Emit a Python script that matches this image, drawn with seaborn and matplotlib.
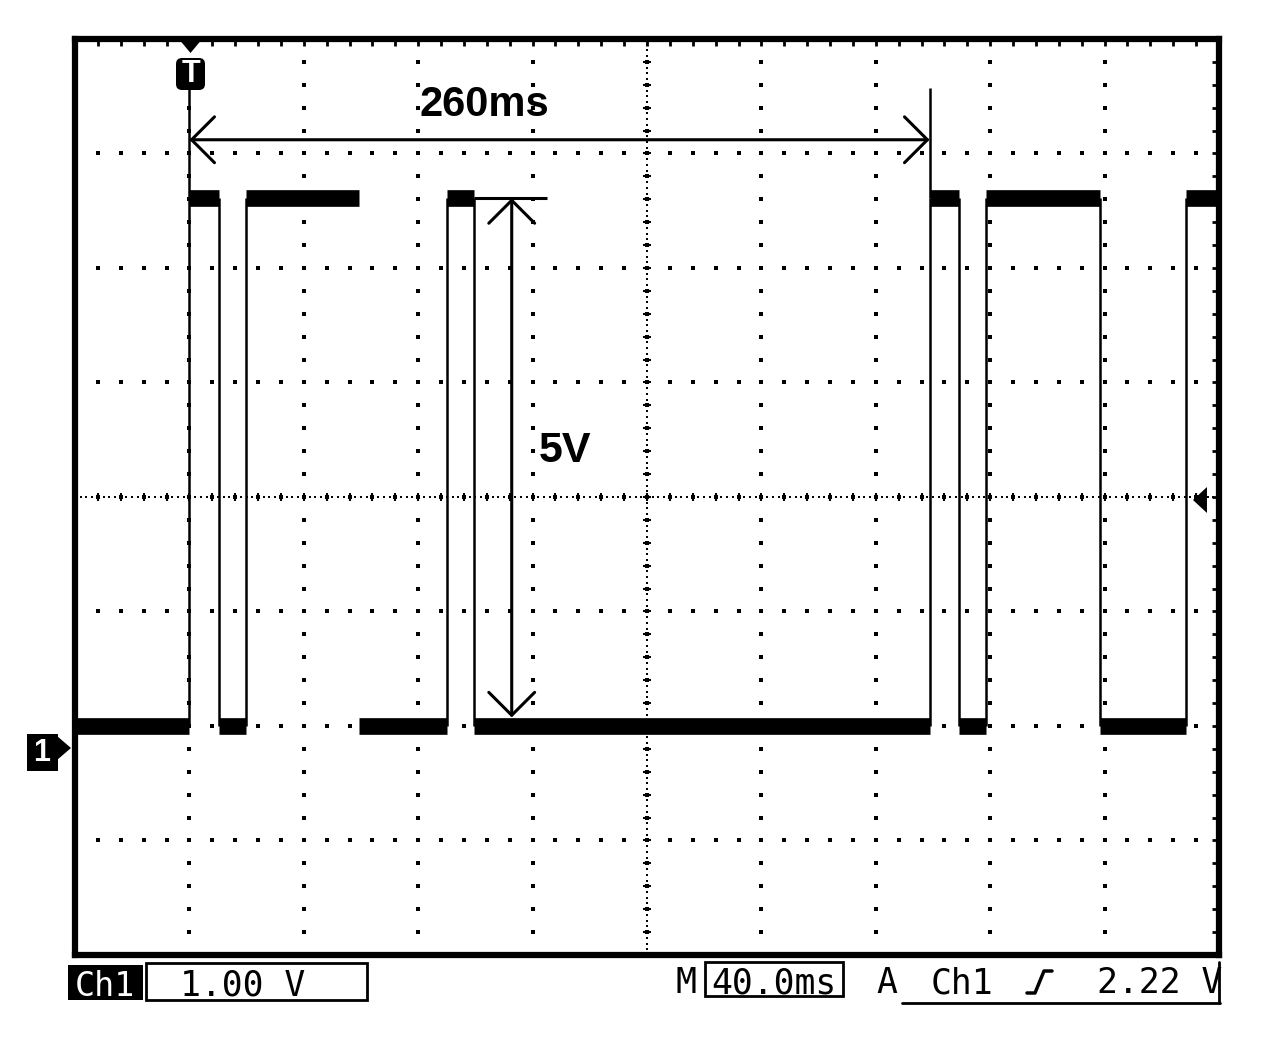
import numpy as np
import pandas as pd
import seaborn as sns
import matplotlib.pyplot as plt
from matplotlib.patches import Polygon, Rectangle, FancyBboxPatch

# scope settings
ms_per_div = 40.0
volts_per_div = 1.00
trig_level = 2.22
t_span = [0.0, 400.0]
v_span = [-1.84, 6.16]
v_center = 2.16

# logic trace: edge times in ms (starts low), False = edge not captured
edge_t = [40.0, 50.3, 59.8, 99.2, 130.0, 139.4, 298.8, 309.2, 318.6, 358.4, 388.5]
edge_shown = [True, True, True, False, True, True, True, True, True, True, True]
low_v = 0.16
high_v = 4.77

# cursor readings
period_ms = 260
swing_v = 5

sns.set_style('white')
plt.rcParams['font.family'] = ['Liberation Sans', 'DejaVu Sans']
plt.rcParams['text.color'] = 'black'

fig = plt.figure(figsize=(12.64, 10.58), dpi=100)
W, H = 1264, 1058
ax = fig.add_axes([75 / W, 1 - 955 / H, (1219 - 75) / W, (955 - 39) / H])

# noisy level bands drawn as thick segments
bounds = [t_span[0]] + edge_t + [t_span[1]]
rows = []
for i in range(len(bounds) - 1):
    lvl = low_v if i % 2 == 0 else high_v
    rows.append((bounds[i], lvl, i))
    rows.append((bounds[i + 1], lvl, i))
bands = pd.DataFrame(rows, columns=['t', 'v', 'seg'])
sns.lineplot(data=bands, x='t', y='v', units='seg', estimator=None, color='black',
             lw=12, solid_capstyle='butt', legend=False, ax=ax, zorder=3)
shown = [t for t, s in zip(edge_t, edge_shown) if s]
ax.vlines(shown, low_v, high_v, color='black', lw=1.8, zorder=3)

ax.set_xlim(t_span)
ax.set_ylim(v_span)

# graticule
maj_x = np.arange(t_span[0] + ms_per_div, t_span[1], ms_per_div)
maj_y = v_center + volts_per_div * np.arange(-3, 4)
min_x = np.arange(t_span[0], t_span[1] + 0.1, ms_per_div / 5)
min_y = v_center + volts_per_div / 5 * np.arange(-20, 21)
min_y = min_y[(min_y > v_span[0] + 0.01) & (min_y < v_span[1] - 0.01)]
gx, gy = np.meshgrid(maj_x, min_y)
ax.scatter(gx.ravel(), gy.ravel(), s=5, marker='s', color='black', lw=0, zorder=1)
gx, gy = np.meshgrid(min_x, maj_y)
ax.scatter(gx.ravel(), gy.ravel(), s=5, marker='s', color='black', lw=0, zorder=1)
# centre lines: denser dots + small ticks
cx = np.arange(t_span[0], t_span[1], ms_per_div / 20)
ax.scatter(cx, np.full_like(cx, v_center), s=4, marker='s', color='black', lw=0, zorder=1)
cy = np.arange(v_span[0], v_span[1], volts_per_div / 20)
ax.scatter(np.full_like(cy, 200.0), cy, s=4, marker='s', color='black', lw=0, zorder=1)
ax.scatter(min_x, np.full_like(min_x, v_center), s=40, marker='|', color='black', lw=1.5, zorder=1)
ax.scatter(np.full_like(min_y, 200.0), min_y, s=40, marker='_', color='black', lw=1.5, zorder=1)

ax.set_xticks(min_x)
ax.set_yticks(min_y)
ax.set_xticklabels([])
ax.set_yticklabels([])
ax.tick_params(direction='in', length=5, width=2, top=True, right=True, color='black')
for sp in ax.spines.values():
    sp.set_linewidth(4.5)
    sp.set_color('black')
ax.set_xlabel('')
ax.set_ylabel('')

# cursors
ax.vlines(edge_t[0], high_v, 5.72, color='black', lw=1.8, zorder=3)
ax.vlines(edge_t[6], high_v, 5.73, color='black', lw=1.8, zorder=3)
ax.annotate('', xy=(edge_t[0], 5.28), xytext=(edge_t[6], 5.28),
            arrowprops=dict(arrowstyle='<->,head_length=1,head_width=1', mutation_scale=16.5,
                            lw=2.2, color='black', shrinkA=0, shrinkB=0))
ax.text(143.2, 5.488, f'{period_ms}ms', ha='center', va='baseline', fontsize=30,
        fontweight='bold', color='black')
ax.hlines(high_v, edge_t[5], 165.2, color='black', lw=2.2, zorder=3)
ax.annotate('', xy=(152.7, high_v), xytext=(152.7, 0.235),
            arrowprops=dict(arrowstyle='<->,head_length=1,head_width=1', mutation_scale=16.5,
                            lw=2.2, color='black', shrinkA=0, shrinkB=0))
ax.text(171.2, 2.469, f'{swing_v}V', ha='center', va='baseline', fontsize=31,
        fontweight='bold', color='black')

# overlay in pixel coordinates for the scope's on-screen markers and status bar
ov = fig.add_axes([0, 0, 1, 1], zorder=5)
ov.set_xlim(0, W)
ov.set_ylim(H, 0)
ov.axis('off')
ov.patch.set_alpha(0)

# trigger position marker
ov.add_patch(Polygon([(178, 38), (203, 38), (190.5, 53)], closed=True, fc='black', ec='none'))
ov.add_patch(FancyBboxPatch((176, 58), 29, 32, boxstyle='round,pad=0,rounding_size=6',
                            fc='black', ec='none'))
ov.text(190.5, 74.5, 'T', color='white', ha='center', va='center', fontsize=22,
        fontweight='bold')
# trigger level marker
ov.add_patch(Polygon([(1193, 500), (1207, 487), (1207, 513)], closed=True, fc='black', ec='none'))
# channel 1 ground marker
ov.add_patch(Rectangle((27, 734), 31, 37, fc='black', ec='none'))
ov.add_patch(Polygon([(57, 736), (57, 760), (71, 748)], closed=True, fc='black', ec='none'))
ov.text(42, 753, '1', color='white', ha='center', va='center', fontsize=22, fontweight='bold')

# status bar
mono = 'DejaVu Sans Mono'
ov.add_patch(Rectangle((68, 965), 75, 35, fc='black', ec='none'))
ov.text(105, 996, 'Ch1', color='white', ha='center', va='baseline', fontsize=24, family=mono)
ov.add_patch(Rectangle((146, 963), 221, 37, fc='none', ec='black', lw=2))
ov.text(243, 996, f'{volts_per_div:.2f} V', ha='center', va='baseline', fontsize=25,
        family=mono, color='black')
ov.text(686, 993, 'M', ha='center', va='baseline', fontsize=25, family=mono, color='black')
ov.add_patch(Rectangle((705, 962), 138, 34, fc='none', ec='black', lw=2))
ov.text(774, 993, f'{ms_per_div:.1f}ms', ha='center', va='baseline', fontsize=25,
        family=mono, color='black')
ov.text(887, 993, 'A', ha='center', va='baseline', fontsize=25, family=mono, color='black')
ov.text(962, 993, 'Ch1', ha='center', va='baseline', fontsize=25, family=mono, color='black')
ov.plot([1027, 1035, 1044, 1052], [993, 993, 971, 971], color='black', lw=2.5)
ov.text(1160, 993, f'{trig_level:.2f} V', ha='center', va='baseline', fontsize=25,
        family=mono, color='black')
ov.plot([902, 1220], [1003, 1003], color='black', lw=2)
ov.plot([1219, 1219], [962, 1003], color='black', lw=2)

fig.savefig('out.png', dpi=100, facecolor='white')
